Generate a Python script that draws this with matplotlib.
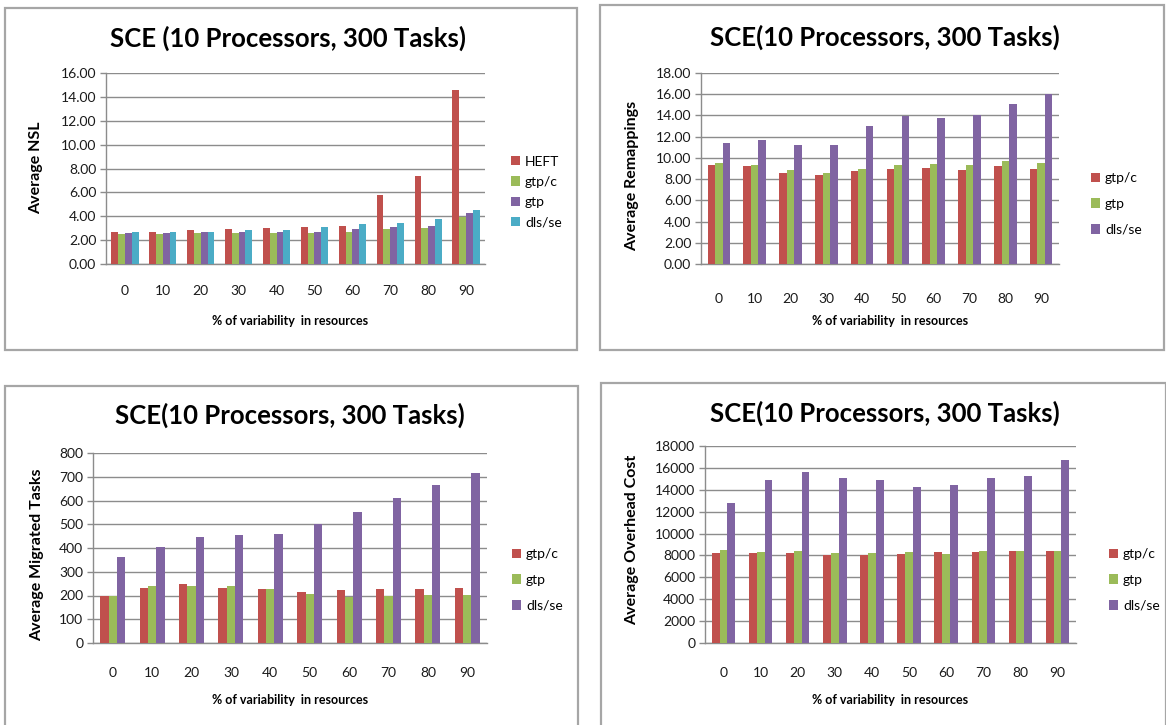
import matplotlib
matplotlib.use("Agg")
import matplotlib.pyplot as plt
from matplotlib.patches import Rectangle
import numpy as np

plt.rcParams['font.family'] = ['Lato', 'DejaVu Sans']

# ---- data ---------------------------------------------------------------
variability = [0, 10, 20, 30, 40, 50, 60, 70, 80, 90]

nsl_heft = [2.72, 2.70, 2.82, 2.90, 3.02, 3.13, 3.22, 5.82, 7.38, 14.58]
nsl_gtpc = [2.52, 2.50, 2.63, 2.63, 2.63, 2.63, 2.71, 2.91, 3.02, 3.97]
nsl_gtp = [2.63, 2.60, 2.71, 2.71, 2.71, 2.71, 2.91, 3.10, 3.22, 4.31]
nsl_dls = [2.71, 2.70, 2.71, 2.82, 2.82, 3.13, 3.33, 3.41, 3.80, 4.50]

remap_gtpc = [9.31, 9.19, 8.62, 8.40, 8.72, 8.97, 9.09, 8.87, 9.19, 9.00]
remap_gtp = [9.50, 9.31, 8.87, 8.62, 8.97, 9.31, 9.41, 9.31, 9.66, 9.50]
remap_dls = [11.45, 11.70, 11.20, 11.20, 13.03, 13.97, 13.80, 14.00, 15.07, 16.05]

migr_gtpc = [200, 233, 247, 233, 226, 214, 222, 226, 226, 233]
migr_gtp = [200, 238, 238, 238, 226, 207, 193, 200, 203, 203]
migr_dls = [364, 403, 448, 454, 458, 503, 550, 610, 665, 714]

cost_gtpc = [8220, 8220, 8220, 8010, 8010, 8100, 8320, 8320, 8410, 8410]
cost_gtp = [8540, 8320, 8410, 8220, 8220, 8320, 8100, 8410, 8410, 8410]
cost_dls = [12790, 14900, 15670, 15110, 14900, 14250, 14460, 15110, 15240, 16700]

RED, GREEN, PURPLE, AQUA = '#C0504D', '#9BBB59', '#8064A2', '#4BACC6'
GRID = '#8C8C8C'
TITLE = 'SCE(10 Processors, 300 Tasks)'
XLABEL = '% of variability  in resources'

W, H = 1166, 725
fig = plt.figure(figsize=(W / 100, H / 100), dpi=100)
fig.patch.set_facecolor('white')


def frac(x, y):
    return x / W, 1 - y / H


def box(x0, y0, x1, y1):
    fig.patches.append(Rectangle(frac(x0, y1), (x1 - x0) / W, (y1 - y0) / H,
                                 transform=fig.transFigure, fill=False,
                                 edgecolor='#A6A6A6', linewidth=1.6, zorder=0))


def panel(rect, series, labels, colors, ymax, ystep, fmt, bar_w,
          title, title_xy, ylabel, ylabel_xy, xlabel_xy, legend_xy,
          legend_sp, xtick_pad):
    x0, y0, x1, y1 = rect
    ax = fig.add_axes([x0 / W, 1 - y1 / H, (x1 - x0) / W, (y1 - y0) / H])
    idx = np.arange(len(variability))
    n = len(series)
    for i, (vals, lab, col) in enumerate(zip(series, labels, colors)):
        offs = (i - (n - 1) / 2) * bar_w
        ax.bar(idx + offs, vals, width=bar_w, color=col, label=lab,
               linewidth=0, zorder=3)
    ax.set_xlim(-0.5, len(variability) - 0.5)
    ax.set_ylim(0, ymax)
    ax.set_yticks(np.arange(0, ymax + ystep / 2, ystep))
    ax.yaxis.set_major_formatter(plt.FuncFormatter(lambda v, p: fmt.format(v)))
    ax.set_xticks(idx)
    ax.set_xticklabels([str(v) for v in variability])
    ax.tick_params(axis='x', length=0, pad=xtick_pad, labelsize=10,
                   labelcolor='#1a1a1a')
    ax.tick_params(axis='y', length=4, width=1, color=GRID, labelsize=10,
                   labelcolor='#1a1a1a', pad=3)
    ax.grid(axis='y', color=GRID, linewidth=1, zorder=0)
    ax.set_axisbelow(True)
    for s in ('top', 'right'):
        ax.spines[s].set_visible(False)
    for s in ('left', 'bottom'):
        ax.spines[s].set_color(GRID)
        ax.spines[s].set_linewidth(1)
    fig.text(*frac(*title_xy), title, ha='center', va='center',
             fontsize=18.5, fontweight='bold', color='black')
    fig.text(*frac(*ylabel_xy), ylabel, ha='center', va='center',
             rotation=90, fontsize=11.5, fontweight='bold', color='black')
    fig.text(*frac(*xlabel_xy), XLABEL, ha='center', va='center',
             fontsize=9, fontweight='bold', color='black')
    ax.legend(loc='center left', bbox_to_anchor=frac(*legend_xy),
              bbox_transform=fig.transFigure, frameon=False, fontsize=10,
              handlelength=0.65, handleheight=0.65, handletextpad=0.35,
              labelspacing=legend_sp, borderpad=0, borderaxespad=0)
    return ax


# panel frames
box(5, 8, 577, 350)
box(600, 5, 1164, 350)
box(5, 386, 578, 728)
box(601, 383, 1166, 728)

panel((106, 73, 485, 264), [nsl_heft, nsl_gtpc, nsl_gtp, nsl_dls],
      ['HEFT', 'gtp/c', 'gtp', 'dls/se'], [RED, GREEN, PURPLE, AQUA],
      16, 2, '{:.2f}', 0.18,
      'SCE (10 Processors, 300 Tasks)', (288, 38), 'Average NSL', (36, 168),
      (290, 321), (511, 192), 0.6, 15)

panel((701, 73, 1059, 264), [remap_gtpc, remap_gtp, remap_dls],
      ['gtp/c', 'gtp', 'dls/se'], [RED, GREEN, PURPLE],
      18, 2, '{:.2f}', 0.21,
      TITLE, (885, 37), 'Average Remappings', (632, 176),
      (890, 321), (1091, 204), 1.0, 21)

panel((93, 453, 487, 643), [migr_gtpc, migr_gtp, migr_dls],
      ['gtp/c', 'gtp', 'dls/se'], [RED, GREEN, PURPLE],
      800, 100, '{:.0f}', 0.21,
      TITLE, (290, 415), 'Average Migrated Tasks', (37, 555),
      (290, 700), (512, 580), 1.0, 17)

panel((705, 446, 1076, 643), [cost_gtpc, cost_gtp, cost_dls],
      ['gtp/c', 'gtp', 'dls/se'], [RED, GREEN, PURPLE],
      18000, 2000, '{:.0f}', 0.21,
      TITLE, (885, 413), 'Average Overhead Cost', (632, 540),
      (890, 700), (1109, 580), 1.0, 17)

fig.savefig('out.png', dpi=100, facecolor='white')
